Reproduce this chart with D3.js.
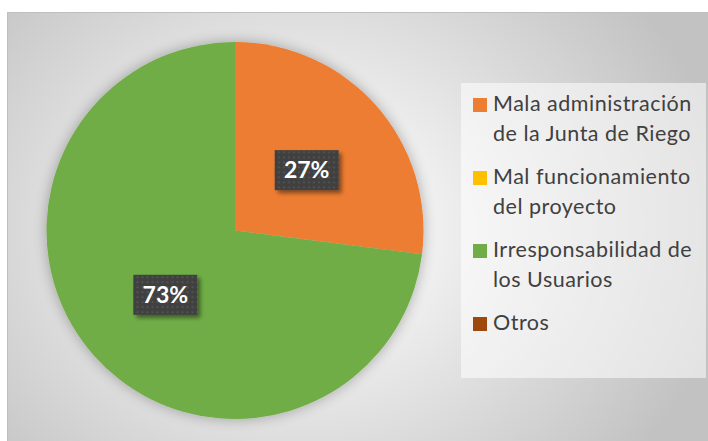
<!DOCTYPE html>
<html><head><meta charset="utf-8">
<script src="https://cdn.jsdelivr.net/npm/d3@7"></script>
<style>html,body{margin:0;padding:0;background:#fff;}svg{display:block;}</style>
</head><body>
<script>
const categories = ["Mala administración de la Junta de Riego", "Mal funcionamiento del proyecto", "Irresponsabilidad de los Usuarios", "Otros"];
const legendLines = [["Mala administración","de la Junta de Riego"],["Mal funcionamiento","del proyecto"],["Irresponsabilidad de","los Usuarios"],["Otros"]];
const values = [27, 0, 73, 0];
const colors = ["#ED7D31", "#FFC000", "#70AD47", "#9E480E"];

const W = 708, H = 441;
const svg = d3.select("body").append("svg").attr("width", W).attr("height", H);
const defs = svg.append("defs");

const grad = defs.append("radialGradient").attr("id","bg")
  .attr("gradientUnits","userSpaceOnUse").attr("cx",300).attr("cy",228).attr("r",430)
  .attr("gradientTransform","translate(300,228) scale(1,0.85) translate(-300,-228)");
grad.append("stop").attr("offset",0).attr("stop-color","#ffffff");
grad.append("stop").attr("offset",0.25).attr("stop-color","#f4f4f4");
grad.append("stop").attr("offset",0.7).attr("stop-color","#d6d6d6");
grad.append("stop").attr("offset",1).attr("stop-color","#c2c2c2");

const sh = defs.append("filter").attr("id","pieShadow").attr("x","-20%").attr("y","-20%").attr("width","140%").attr("height","140%");
sh.append("feGaussianBlur").attr("in","SourceAlpha").attr("stdDeviation",7).attr("result","b");
sh.append("feComponentTransfer").attr("in","b").attr("result","b2").append("feFuncA").attr("type","linear").attr("slope",0.3);
const m1 = sh.append("feMerge"); m1.append("feMergeNode").attr("in","b2"); m1.append("feMergeNode").attr("in","SourceGraphic");

const bs = defs.append("filter").attr("id","boxShadow").attr("x","-30%").attr("y","-30%").attr("width","160%").attr("height","160%");
bs.append("feDropShadow").attr("dx",3).attr("dy",3).attr("stdDeviation",2).attr("flood-color","#000").attr("flood-opacity",0.45);

const pat = defs.append("pattern").attr("id","dots").attr("patternUnits","userSpaceOnUse").attr("width",5).attr("height",5);
pat.append("rect").attr("width",5).attr("height",5).attr("fill","#404040");
pat.append("rect").attr("x",1.5).attr("y",1.5).attr("width",1.6).attr("height",1.6).attr("fill","#5a5a5a");

svg.append("rect").attr("x",7.5).attr("y",12.5).attr("width",W).attr("height",H).attr("fill","url(#bg)").attr("stroke","#bfbfbf").attr("stroke-width",1);

const cx = 235, cy = 230.5, R = 188.5;
const data = categories.map((c,i)=>({cat:c, value:values[i], color:colors[i]}));
const pie = d3.pie().sort(null).value(d=>d.value);
const arcs = pie(data);
const arc = d3.arc().innerRadius(0).outerRadius(R);
const g = svg.append("g").attr("transform",`translate(${cx},${cy})`);
g.append("g").attr("filter","url(#pieShadow)").selectAll("path").data(arcs.filter(a=>a.data.value>0)).join("path")
  .attr("d",arc).attr("fill",d=>d.data.color);

const bw = 64, bh = 40;
const lbl = g.selectAll("g.lbl").data(arcs.filter(a=>a.data.value>0)).join("g").attr("class","lbl")
  .attr("transform",d=>{const c=arc.centroid(d);return `translate(${c[0]+1},${c[1]+2})`;});
lbl.append("rect").attr("x",-bw/2).attr("y",-bh/2).attr("width",bw).attr("height",bh).attr("fill","url(#dots)").attr("filter","url(#boxShadow)");
lbl.append("text").attr("text-anchor","middle").attr("dy","0.36em")
  .attr("font-family","Lato, 'Open Sans', sans-serif").attr("font-weight","bold").attr("font-size",23).attr("fill","#fff")
  .text(d=>d.data.value+"%");

// legend
svg.append("rect").attr("x",461).attr("y",83).attr("width",245).attr("height",295).attr("fill","#fff").attr("fill-opacity",0.55);
const lg = svg.append("g");
const itemY = [111, 184, 257, 330];
legendLines.forEach((lines,i)=>{
  const y = itemY[i];
  lg.append("rect").attr("x",473).attr("y",y-13).attr("width",14).attr("height",14).attr("fill",colors[i]);
  lines.forEach((t,j)=>{
    lg.append("text").attr("x",493).attr("y",y+j*30).attr("font-family","Lato, 'Open Sans', sans-serif")
      .attr("font-size",21.5).attr("letter-spacing",0.5).attr("fill","#404040").text(t);
  });
});
</script>
</body></html>
